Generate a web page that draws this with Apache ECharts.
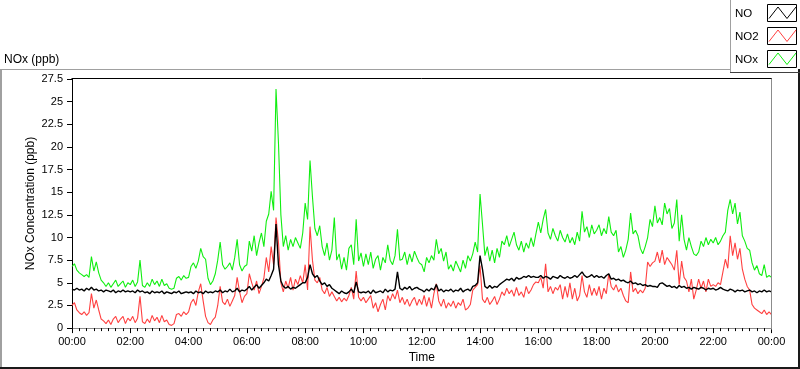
<!DOCTYPE html>
<html><head><meta charset="utf-8">
<script src="https://cdn.jsdelivr.net/npm/echarts@6/dist/echarts.min.js"></script>
<style>html,body{margin:0;padding:0;background:#fff}#c{width:800px;height:369px}</style>
</head><body><div id="c"></div>
<script>
const seriesNames = ['NO', 'NO2', 'NOx'];
const seriesColors = ['#000000', '#ff4040', '#10ee10'];
const stepMinutes = 5;
const xTickLabels = ['00:00','02:00','04:00','06:00','08:00','10:00','12:00','14:00','16:00','18:00','20:00','22:00','00:00'];

const NO = [
4.3,4.2,4.4,4.2,4.3,4.1,4.4,4.2,4.5,4.2,4.3,4.1,
4.2,4.0,4.2,4.1,4.0,4.2,3.9,4.1,4.0,4.2,4.0,4.1,
4.0,4.1,3.9,4.2,4.0,4.1,3.9,4.0,3.8,4.1,3.9,4.0,
3.9,4.1,3.8,4.0,3.9,3.8,4.0,3.9,4.1,3.8,3.9,4.0,
3.9,4.0,3.8,4.1,3.9,4.0,3.8,4.1,3.9,4.0,3.9,4.1,
4.0,4.2,3.9,4.1,4.0,4.3,4.0,4.1,4.4,4.0,4.2,4.1,
4.3,4.6,4.2,4.5,4.8,4.4,4.7,5.0,5.4,5.2,5.8,6.5,
11.5,7.0,5.2,4.6,4.4,4.6,4.3,4.5,4.4,4.6,4.8,5.0,
5.0,5.6,7.0,6.0,5.6,5.8,5.2,4.8,5.0,4.6,4.8,4.4,
4.2,4.0,3.8,4.1,3.9,3.8,4.0,4.3,3.9,5.1,4.0,3.9,
4.0,3.9,4.1,3.8,4.2,3.9,4.0,4.1,3.9,4.3,4.0,4.2,
4.1,4.3,6.2,4.4,4.2,4.5,4.3,4.6,4.2,4.4,4.5,4.3,
4.2,4.0,4.3,4.1,4.4,4.2,4.8,4.1,4.3,4.0,4.2,4.1,
4.3,4.0,4.2,4.1,4.4,4.0,4.2,4.3,4.1,4.6,4.7,5.0,
8.0,6.5,4.6,4.4,4.7,4.4,4.6,4.5,4.8,5.0,5.2,5.4,
5.3,5.5,5.2,5.6,5.4,5.5,5.7,5.6,5.8,5.6,5.7,5.6,
5.6,5.8,5.5,5.7,5.6,5.4,5.7,5.6,5.5,5.8,5.6,5.5,
5.7,5.5,5.6,5.8,5.6,5.9,6.2,5.8,5.6,5.7,5.9,5.6,
5.8,5.6,5.7,5.5,5.8,6.0,5.4,5.5,5.3,5.4,5.2,5.3,
5.1,5.0,5.2,4.9,5.0,4.8,4.9,4.7,4.8,4.6,4.7,4.6,
4.6,4.5,4.9,5.0,4.8,4.6,4.7,4.5,4.6,4.4,4.7,4.5,
4.6,4.4,4.5,4.3,4.5,4.4,4.3,4.5,4.4,4.2,4.4,4.3,
4.4,4.2,4.3,4.5,4.3,4.2,4.1,4.3,4.2,4.0,4.2,4.1,
4.2,4.0,4.1,4.2,4.0,4.1,3.9,4.1,4.0,4.2,4.0,4.1,
4.0];

const NO2 = [
2.5,2.8,2.0,1.7,1.5,1.8,1.4,1.7,3.8,2.2,3.1,2.0,
1.0,0.8,0.5,0.9,0.4,1.0,1.3,0.6,1.0,1.3,0.5,1.1,
0.8,1.3,0.6,1.1,3.5,0.7,0.5,1.0,0.6,1.4,0.8,1.2,
0.6,1.4,0.7,0.9,0.4,0.3,0.5,1.5,1.6,1.3,1.8,1.5,
1.8,2.8,3.2,2.5,4.0,4.9,3.0,1.3,0.6,0.4,0.9,1.2,
2.5,4.6,2.9,2.6,3.2,2.4,3.0,3.6,5.6,4.0,2.8,3.5,
3.8,6.0,5.0,4.2,5.2,3.8,4.6,5.5,7.8,6.2,9.0,7.0,
12.2,9.5,5.0,4.0,5.2,4.4,5.6,4.2,5.4,4.8,5.8,5.0,
7.0,4.2,11.2,7.5,5.3,5.0,5.6,4.2,3.8,4.5,3.5,4.0,
3.5,3.0,3.4,2.9,3.3,3.0,3.6,4.5,3.2,6.3,3.4,3.0,
3.4,2.8,3.2,3.6,2.2,2.8,1.8,2.6,3.2,2.0,3.6,3.0,
3.8,3.2,4.2,2.8,3.4,2.6,3.2,2.4,3.0,3.4,2.5,3.2,
2.6,3.6,2.4,3.4,2.2,3.8,4.9,3.0,2.4,3.2,2.2,2.8,
2.4,3.0,2.2,2.8,2.5,3.2,2.0,2.2,2.6,4.2,4.5,4.8,
6.9,3.2,2.8,3.4,2.6,3.0,3.5,2.6,3.2,4.0,3.6,4.4,
3.8,4.2,3.5,4.5,3.6,4.0,3.4,4.6,3.8,4.2,4.8,5.1,
5.0,5.6,4.4,7.1,4.0,4.6,3.8,4.5,4.2,4.8,3.2,4.6,
3.4,5.0,3.2,4.4,3.0,3.6,5.8,4.0,3.4,4.8,3.6,4.4,
3.6,4.6,3.2,4.4,3.8,6.0,4.6,4.2,4.8,4.0,4.4,3.6,
3.0,2.8,6.2,4.0,4.4,3.8,4.2,3.9,4.4,7.3,6.8,7.2,
7.4,8.4,7.2,8.6,7.0,7.8,7.4,7.0,6.4,8.6,4.8,7.4,
5.6,5.2,4.0,5.4,3.2,4.2,5.4,4.4,5.2,4.0,5.4,4.6,
4.8,4.6,5.0,4.8,6.2,7.6,6.6,10.2,8.0,9.4,7.6,8.8,
6.5,5.4,4.6,4.2,2.6,2.2,2.0,1.8,1.6,2.0,1.5,1.8,
1.5];

const NOx = [
6.8,7.1,6.4,6.1,5.9,5.7,5.9,5.6,7.9,6.3,7.3,6.1,
5.3,5.0,4.6,5.0,4.5,4.9,5.3,4.6,4.9,5.2,4.5,5.0,
4.8,5.3,4.6,5.1,7.5,4.7,4.5,5.0,4.6,5.4,4.8,5.2,
4.6,5.4,4.7,4.9,4.4,4.3,4.4,5.5,5.7,5.3,5.8,5.5,
5.6,6.8,7.2,6.6,7.4,8.8,7.9,7.6,5.5,4.8,5.2,6.0,
7.5,9.5,7.0,6.5,6.8,7.2,6.4,7.8,9.8,7.0,6.3,6.8,
7.0,9.6,8.5,10.2,8.0,9.4,10.5,9.0,11.8,12.6,15.1,13.0,
26.4,20.5,12.5,9.0,10.2,8.6,9.8,9.0,10.0,9.4,8.8,10.5,
13.8,12.0,18.5,14.5,11.0,10.2,11.3,9.0,8.0,9.4,7.5,8.6,
12.2,7.5,8.2,6.5,7.8,6.4,8.8,9.2,7.0,12.0,7.4,8.3,
6.8,8.2,7.0,8.4,6.6,7.6,8.0,6.4,7.8,7.2,9.2,7.5,
7.0,8.0,10.9,7.5,7.6,8.4,7.0,8.2,7.3,8.5,7.8,7.2,
7.0,6.2,7.8,7.2,8.0,7.5,9.8,8.2,8.8,7.4,8.4,6.5,
7.0,6.3,7.4,6.8,6.2,7.5,6.6,8.0,7.4,8.2,9.5,8.4,
14.8,11.5,8.0,9.0,7.4,8.6,7.2,8.8,7.8,9.6,9.2,10.2,
9.0,9.8,10.6,9.2,8.6,9.6,8.4,9.4,8.8,10.0,9.0,10.4,
11.7,10.5,12.0,13.1,10.5,9.8,11.0,10.2,9.6,10.8,10.0,9.5,
10.4,9.4,10.0,9.2,10.6,9.6,12.9,10.6,11.2,10.0,11.4,10.4,
10.8,11.4,10.2,11.0,10.4,12.3,10.6,10.2,10.8,8.4,9.0,7.8,
8.6,9.8,12.7,10.4,10.8,10.2,8.8,8.2,9.0,10.0,12.0,11.2,
13.5,11.6,12.2,11.4,13.8,12.6,13.2,11.0,11.6,14.2,9.6,12.5,
9.8,8.6,10.0,9.0,8.2,8.0,8.4,9.6,9.0,10.0,9.2,9.8,
9.4,10.0,9.2,9.6,10.2,10.6,13.0,14.2,12.6,13.8,11.5,12.8,
10.2,9.6,8.8,8.6,7.2,6.4,6.9,6.0,5.8,7.0,5.6,5.8,
5.6];

const FONT = '"Liberation Sans", Arial, sans-serif';
const values = [NO, NO2, NOx];
const lineWidths = [1.4, 1.1, 1.1];
const toPairs = arr => arr.map((v, i) => [i * stepMinutes, v]);

const drawOrder = [2, 1, 0];
const series = drawOrder.map(k => ({
  name: seriesNames[k],
  type: 'line',
  data: toPairs(values[k]),
  showSymbol: false,
  symbol: 'none',
  lineStyle: { color: seriesColors[k], width: lineWidths[k] },
  itemStyle: { color: seriesColors[k] },
  animation: false
}));

const graphic = [
  { type: 'line', shape: { x1: 0, y1: 69.5, x2: 730, y2: 69.5 }, style: { stroke: '#a0a0a0', lineWidth: 1 }, silent: true },
  { type: 'line', shape: { x1: 1, y1: 69, x2: 1, y2: 369 }, style: { stroke: '#a0a0a0', lineWidth: 2 }, silent: true },
  { type: 'line', shape: { x1: 0, y1: 368, x2: 800, y2: 368 }, style: { stroke: '#1a1a1a', lineWidth: 2 }, silent: true },
  { type: 'line', shape: { x1: 799, y1: 69, x2: 799, y2: 369 }, style: { stroke: '#1a1a1a', lineWidth: 2 }, silent: true },
  { type: 'line', shape: { x1: 71.5, y1: 78.5, x2: 772, y2: 78.5 }, style: { stroke: '#000', lineWidth: 1 }, silent: true, z: 10 },
  { type: 'line', shape: { x1: 771.5, y1: 78.5, x2: 771.5, y2: 329.5 }, style: { stroke: '#8c8c8c', lineWidth: 1 }, silent: true, z: 10 },
  { type: 'line', shape: { x1: 730.5, y1: 0, x2: 730.5, y2: 72.5 }, style: { stroke: '#a0a0a0', lineWidth: 1 }, silent: true },
  { type: 'line', shape: { x1: 730, y1: 72.5, x2: 800, y2: 72.5 }, style: { stroke: '#404040', lineWidth: 1 }, silent: true },
  { type: 'text', x: 4, y: 59.5, style: { text: 'NOx (ppb)', font: '12px ' + FONT, fill: '#000', verticalAlign: 'middle', textVerticalAlign: 'middle' }, silent: true }
];
seriesNames.forEach((name, i) => {
  const top = 4.5 + 23 * i;
  graphic.push({ type: 'text', x: 735, y: top + 9, style: { text: name, font: '11.5px ' + FONT, fill: '#000', verticalAlign: 'middle', textVerticalAlign: 'middle' }, silent: true });
  graphic.push({ type: 'rect', shape: { x: 767.5, y: top, width: 29, height: 17 }, style: { stroke: '#000', fill: '#fff', lineWidth: 1 }, silent: true });
  graphic.push({ type: 'polyline', shape: { points: [[769, top + 14], [778, top + 2.5], [787, top + 14], [796, top + 2.5]] }, style: { stroke: seriesColors[i], fill: null, lineWidth: 1 }, silent: true });
});

const chart = echarts.init(document.getElementById('c'), null, { renderer: 'canvas' });
chart.setOption({
  backgroundColor: '#fff',
  animation: false,
  grid: { left: 72, right: 28.5, top: 79, bottom: 40, containLabel: false },
  xAxis: {
    type: 'value', min: 0, max: 1440, interval: 120,
    name: 'Time', nameLocation: 'middle', nameGap: 23,
    nameTextStyle: { fontFamily: FONT, fontSize: 12, color: '#000' },
    axisLine: { show: true, lineStyle: { color: '#8c8c8c', width: 1 } },
    axisTick: { show: true, length: 5, lineStyle: { color: '#000' } },
    minorTick: { show: true, splitNumber: 8, length: 3, lineStyle: { color: '#000' } },
    splitLine: { show: false },
    axisLabel: { margin: 8, fontFamily: FONT, fontSize: 11, color: '#000', formatter: v => xTickLabels[Math.round(v / 120)] }
  },
  yAxis: {
    type: 'value', min: 0, max: 27.5, interval: 2.5,
    name: 'NOx Concentration (ppb)', nameLocation: 'middle', nameGap: 35, nameMoveOverlap: false,
    nameTextStyle: { fontFamily: FONT, fontSize: 12, color: '#000' },
    axisLine: { show: true, lineStyle: { color: '#000', width: 1 } },
    axisTick: { show: true, length: 5, lineStyle: { color: '#000' } },
    splitLine: { show: false },
    axisLabel: { margin: 9, fontFamily: FONT, fontSize: 11, color: '#000' }
  },
  series: series,
  graphic: graphic
});
</script>
</body></html>
